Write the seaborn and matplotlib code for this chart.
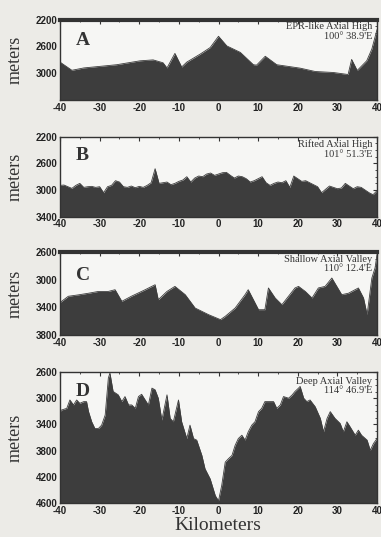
import numpy as np
import matplotlib
matplotlib.use("Agg")
import matplotlib.pyplot as plt
from matplotlib.ticker import AutoMinorLocator
import seaborn as sns

# ---- panel A: EPR-like axial high (breakpoints along profile)
a_km = [-40, -37, -34, -30, -25.7, -19.8, -16.5, -14, -13, -11, -9.3, -8, -4.6, -2.1, 0,
        2.1, 5.5, 8.8, 9.6, 11.8, 14.7, 20.6, 24.4, 29, 32.7, 33.6, 35, 37.4, 38.7, 40]
a_depth = [2835, 2957, 2922, 2899, 2874, 2816, 2802, 2845, 2922, 2705, 2908, 2835, 2715, 2618, 2450,
           2594, 2690, 2874, 2880, 2748, 2874, 2925, 2975, 2990, 3020, 2795, 2960, 2816, 2640, 2350]

# ---- panel B: rifted axial high (1 km samples, -40..40)
b_depth = [2930, 2925, 2950, 2975, 2930, 2900, 2960, 2950, 2945, 2960,
           2950, 3040, 2950, 2930, 2860, 2880, 2950, 2960, 2940, 2965,
           2945, 2960, 2930, 2890, 2680, 2900, 2890, 2880, 2920, 2900,
           2870, 2850, 2800, 2880, 2820, 2790, 2800, 2760, 2745, 2780,
           2760, 2740, 2735, 2780, 2820, 2790, 2800, 2830, 2880, 2860,
           2830, 2800, 2890, 2930, 2900, 2880, 2890, 2860, 2960, 2790,
           2830, 2870, 2860, 2890, 2920, 2950, 3040, 2990, 2940, 2960,
           2980, 2970, 2900, 2940, 2980, 2950, 2960, 3000, 3040, 3070,
           3010]

# ---- panel C: shallow axial valley
c_km = [-40, -39.6, -37.9, -35.4, -32.8, -30.3, -27.8, -26.1, -24.4, -22, -18.5, -16, -15.2,
        -13, -11, -8.4, -5.9, -2.5, 0.5, 1.7, 4.2, 6.7, 7.5, 10.1, 11.7, 12.6, 14.3, 16,
        19.3, 20.2, 21.9, 23.6, 25.2, 26.9, 28.6, 31.1, 32.8, 35.3, 36.6, 37.5, 38.7, 39.5, 40]
c_depth = [3330, 3313, 3240, 3220, 3196, 3170, 3170, 3145, 3313, 3240, 3145, 3073, 3290,
           3170, 3097, 3217, 3410, 3506, 3578, 3530, 3410, 3217, 3145, 3434, 3434, 3120, 3265, 3362,
           3120, 3097, 3170, 3265, 3120, 3097, 2976, 3217, 3196, 3120, 3265, 3506, 2976, 2831, 2638]

# ---- panel D: deep axial valley
d_km = [-40, -39.6, -38.3, -37.5, -36.6, -35.8, -35, -34, -33.3, -32.8, -32, -31.2, -30.3,
        -29.5, -28.6, -27.8, -27.4, -26.6, -25.3, -24.4, -23.6, -22.7, -21.9, -21, -20.2,
        -19.4, -18.5, -17.7, -16.8, -16, -15.2, -14.3, -13, -12.2, -11.4, -10.1, -9.3, -8,
        -7.2, -6.3, -5.5, -4.2, -3.4, -2.1, -0.8, 0, 0.8, 1.7, 2.5, 3.4, 4.2, 5, 5.9, 6.7,
        7.5, 8.4, 9.2, 10.1, 10.9, 11.7, 12.6, 13.9, 14.7, 15.6, 16.4, 17.7, 18.6, 19.3,
        20.2, 20.6, 21.5, 22.3, 23.1, 24.4, 25.7, 26.5, 27.4, 28.2, 29.4, 30.7, 31.5, 32.4,
        33.2, 34.5, 35.3, 36.1, 37.5, 38.3, 39.1, 40]
d_depth = [3205, 3180, 3155, 3027, 3103, 3027, 3078, 3052, 3052, 3205, 3360, 3462, 3462,
           3412, 3257, 2692, 2615, 2897, 2949, 3052, 2975, 3103, 3103, 3155, 2975,
           2940, 3027, 3103, 2846, 2872, 3000, 3334, 2949, 3308, 3360, 3027, 3360, 3616,
           3411, 3616, 3640, 3873, 4078, 4232, 4489, 4566, 4335, 3976, 3924, 3873, 3719, 3616, 3565, 3640,
           3513, 3411, 3360, 3205, 3155, 3052, 3052, 3052, 3155, 3103, 2975, 3000, 2949, 2897,
           2846, 2820, 3000, 3052, 3027, 3130, 3308, 3513, 3308, 3205, 3308, 3385, 3513, 3360,
           3436, 3565, 3488, 3565, 3640, 3796, 3693, 3616]

panel_letters = ["A", "B", "C", "D"]
panel_names = ["EPR-like Axial High", "Rifted Axial High", "Shallow Axial Valley", "Deep Axial Valley"]
panel_lons = ["100\u00b0 38.9'E", "101\u00b0 51.3'E", "110\u00b0 12.4'E", "114\u00b0 46.9'E"]

FILL = "#3d3d3d"
BG = "#ecebe7"

sns.set_theme(style="white")
plt.rcParams['font.family'] = ['Liberation Serif', 'DejaVu Serif']

fig = plt.figure(figsize=(3.81, 5.37), dpi=100, facecolor=BG)


def draw_panel(rect, km, depth, ylim, yticks, yticklabels, letter, name, lon, letter_y):
    ax = fig.add_axes(rect)
    ax.set_facecolor("#f6f6f4")
    sns.lineplot(x=km, y=depth, ax=ax, color=FILL, lw=0.6, sort=False, estimator=None)
    ax.fill_between(km, depth, ylim[1], color=FILL, lw=0)
    ax.set_xlim(-40, 40)
    ax.set_ylim(ylim[1], ylim[0])
    ax.set_xticks(range(-40, 41, 10))
    ax.set_xticklabels([str(v) for v in range(-40, 41, 10)])
    ax.set_yticks(yticks)
    ax.set_yticklabels(yticklabels)
    ax.xaxis.set_minor_locator(AutoMinorLocator(2))
    ax.yaxis.set_minor_locator(AutoMinorLocator(4))
    ax.tick_params(which="both", direction="in", top=True, right=True, colors="#333333",
                   labelcolor="#222222")
    ax.tick_params(which="major", length=3, width=0.8, labelsize=7, pad=2)
    ax.tick_params(which="minor", length=1.5, width=0.6)
    for lab in ax.get_xticklabels() + ax.get_yticklabels():
        lab.set_fontweight("bold")
        lab.set_family(["Liberation Sans Narrow", "Liberation Sans", "DejaVu Sans"])
    for sp in ax.spines.values():
        sp.set_color("#333333")
        sp.set_linewidth(1.0)
    ax.set_xlabel("")
    ax.set_ylabel("meters", fontsize=13, color="#333333")
    ax.yaxis.set_label_coords(-0.115, 0.5)
    ax.text(0.05, letter_y, letter, transform=ax.transAxes, fontsize=14, fontweight="bold",
            color="#333333", ha="left", va="center")
    ax.text(0.985, 0.965, name + "\n" + lon, transform=ax.transAxes, fontsize=7.5,
            color="#333333", ha="right", va="top", linespacing=1.05)
    return ax


L, W = 60 / 381, 317 / 381
H = 537.0
axA = draw_panel([L, 1 - 100 / H, W, 80.5 / H], a_km, a_depth, (2200, 3400),
                 [2200, 2600, 3000, 3400], ["2200", "2600", "3000", ""],
                 panel_letters[0], panel_names[0], panel_lons[0], 0.74)
axA.spines["top"].set_linewidth(3)
axB = draw_panel([L, 1 - 216.7 / H, W, 80 / H], list(np.arange(-40, 41)), b_depth, (2200, 3400),
                 [2200, 2600, 3000, 3400], ["2200", "2600", "3000", "3400"],
                 panel_letters[1], panel_names[1], panel_lons[1], 0.77)
axC = draw_panel([L, 1 - 335 / H, W, 83 / H], c_km, c_depth, (2600, 3800),
                 [2600, 3000, 3400, 3800], ["2600", "3000", "3400", "3800"],
                 panel_letters[2], panel_names[2], panel_lons[2], 0.72)
axC.spines["top"].set_linewidth(3)
axD = draw_panel([L, 1 - 503 / H, W, 131 / H], d_km, d_depth, (2600, 4600),
                 [2600, 3000, 3400, 3800, 4200, 4600], ["2600", "3000", "3400", "3800", "4200", "4600"],
                 panel_letters[3], panel_names[3], panel_lons[3], 0.85)

fig.text(0.572, 0.022, "Kilometers", fontsize=14, color="#333333", ha="center", va="center")

fig.savefig("out.png", dpi=100, facecolor=BG)
